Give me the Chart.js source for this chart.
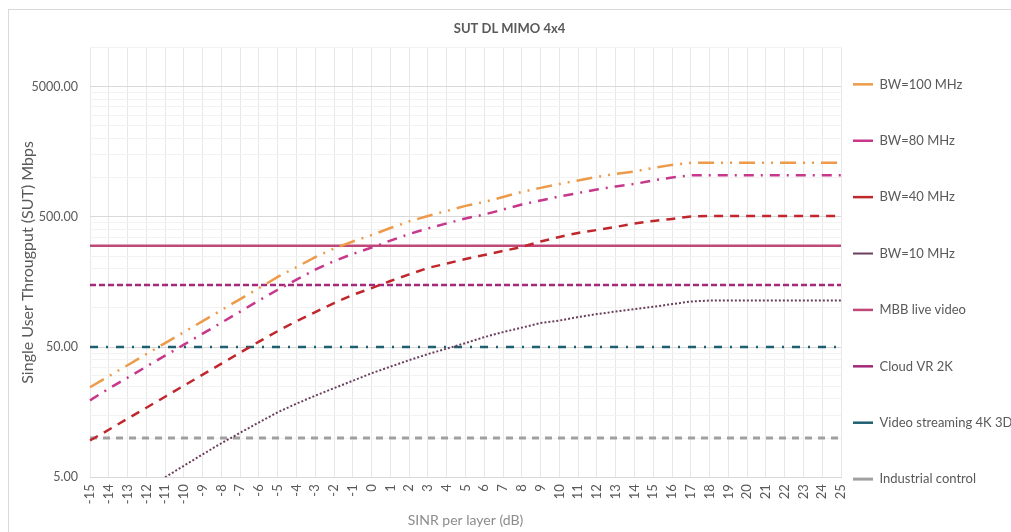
<!DOCTYPE html>
<html>
<head>
<meta charset="utf-8">
<script src="https://cdn.jsdelivr.net/npm/chart.js@4.4.1/dist/chart.umd.min.js"></script>
<style>
  html, body { margin: 0; padding: 0; background: #fff; }
  #wrap { width: 1011px; height: 532px; position: relative; }
</style>
</head>
<body>
<div id="wrap"><canvas id="sut-graph"></canvas></div>
<script>
// SINR per layer (dB), x categories
var sinr = [-15, -14, -13, -12, -11, -10, -9, -8, -7, -6, -5, -4, -3, -2, -1, 0, 1, 2, 3, 4,
            5, 6, 7, 8, 9, 10, 11, 12, 13, 14, 15, 16, 17, 18, 19, 20, 21, 22, 23, 24, 25];

// single user throughput, Mbps
var bw100 = [24.6, 29.9, 36.3, 44.2, 53.7, 65.2, 79.2, 96.3, 117, 142, 173, 206, 246, 286, 324, 363,
             411, 462, 509, 556, 608, 652, 712, 779, 836, 897, 954, 1015, 1071, 1119, 1191, 1256,
             1301, 1305, 1305, 1305, 1305, 1305, 1305, 1305, 1305];
var bw80 = [19.5, 24.0, 29.1, 35.4, 43.0, 52.2, 63.4, 77.1, 93.7, 114, 138, 165, 197, 229, 260, 291,
            329, 370, 408, 446, 487, 522, 570, 624, 670, 718, 764, 813, 858, 896, 954, 1005,
            1045, 1045, 1045, 1045, 1045, 1045, 1045, 1045, 1045];
var bw40 = [9.58, 11.6, 14.1, 17.1, 20.8, 25.3, 30.7, 37.3, 45.4, 55.1, 66.4, 79.2, 93, 109, 126, 142,
            161, 181, 203, 219, 238, 255, 274, 294, 324, 351, 377, 397, 419, 446, 466, 483,
            504, 509, 509, 509, 509, 509, 509, 509, 509];
var bw10 = [null, null, null, null, 5.0, 6.13, 7.51, 9.13, 11.0, 13.2, 15.8, 18.4, 21.2, 24.2, 27.6, 31.5,
            35.4, 39.7, 44.2, 48.7, 53.7, 59.7, 65.2, 70.6, 76.5, 80, 85.1, 89.7, 93.8, 98, 102, 107,
            112, 114, 114, 114, 114, 114, 114, 114, 114];

// service requirements (flat lines), Mbps
var serviceNames = ['MBB live video', 'Cloud VR 2K', 'Video streaming 4K 3D', 'Industrial control'];
var serviceRates = [300, 150, 50, 10];

// y axis labels
var yLabels = [5, 50, 500, 5000];
var yMax = 10000;

var gridValues = [];
yLabels.forEach(function(b) {
    for (var k = 1; k <= 9; k++) {
        if (b * k <= yMax) gridValues.push(b * k);
    }
});
if (gridValues.indexOf(yMax) < 0) gridValues.push(yMax);

Chart.defaults.font.family = 'Lato, "Open Sans", sans-serif';
Chart.defaults.color = '#595959';

var frame = {
    id: 'frame',
    beforeDraw: function(chart) {
        var c = chart.ctx;
        c.save();
        c.strokeStyle = '#d9d9d9';
        c.lineWidth = 1;
        c.strokeRect(8.5, 9.5, chart.width, chart.height);
        c.restore();
    }
};

function flat(rate) {
    return sinr.map(function() { return rate; });
}

var data = {
    labels: sinr,
    datasets: [
        { label: 'BW=100 MHz', data: bw100, borderColor: '#ED9A4A', borderWidth: 2.5, borderDash: [16, 7, 2, 7, 2, 7] },
        { label: 'BW=80 MHz', data: bw80, borderColor: '#C7378B', borderWidth: 2.5, borderDash: [10, 7, 2, 7] },
        { label: 'BW=40 MHz', data: bw40, borderColor: '#C0272D', borderWidth: 2.5, borderDash: [9, 7] },
        { label: 'BW=10 MHz', data: bw10, borderColor: '#6A3F5E', borderWidth: 2, borderDash: [2, 2] },
        { label: serviceNames[0], data: flat(serviceRates[0]), borderColor: '#C04878', borderWidth: 2.5 },
        { label: serviceNames[1], data: flat(serviceRates[1]), borderColor: '#A3297A', borderWidth: 2.5, borderDash: [6, 3] },
        { label: serviceNames[2], data: flat(serviceRates[2]), borderColor: '#1E6070', borderWidth: 2.5, borderDash: [8, 8, 2, 8] },
        { label: serviceNames[3], data: flat(serviceRates[3]), borderColor: '#A0A0A0', borderWidth: 3, borderDash: [7, 6] }
    ]
};

var ctx = document.getElementById('sut-graph');
var sutGraph = new Chart(ctx, {
    type: 'line',
    data: data,
    plugins: [frame],
    options: {
        responsive: true,
        maintainAspectRatio: false,
        animation: false,
        elements: { point: { radius: 0 }, line: { tension: 0, fill: false } },
        layout: { padding: { left: 8, bottom: 3 } },
        plugins: {
            tooltip: { enabled: false },
            title: {
                display: true,
                text: 'SUT DL MIMO 4x4',
                color: '#595959',
                font: { size: 13, weight: 'bold' },
                padding: { top: 21, bottom: 11 }
            },
            legend: {
                position: 'right',
                align: 'end',
                maxWidth: 170,
                labels: {
                    usePointStyle: true,
                    pointStyle: 'line',
                    pointStyleWidth: 20,
                    color: '#595959',
                    font: { size: 13, lineHeight: 3.415 },
                    padding: 12,
                    generateLabels: function(chart) {
                        var items = Chart.defaults.plugins.legend.labels.generateLabels(chart);
                        items.forEach(function(it) { it.text = [it.text]; });
                        return items;
                    }
                }
            }
        },
        scales: {
            x: {
                grid: { color: '#e8e8e8', drawTicks: false },
                border: { color: '#d9d9d9' },
                ticks: { minRotation: 90, maxRotation: 90, autoSkip: false, padding: 7, color: '#595959', font: { size: 13 } },
                title: { display: true, text: 'SINR per layer (dB)', color: '#8c8c8c', font: { size: 14 }, padding: { top: 1, bottom: 0 } }
            },
            y: {
                type: 'logarithmic',
                min: 5,
                max: yMax,
                afterBuildTicks: function(scale) {
                    scale.ticks = gridValues.map(function(v) { return { value: v }; });
                },
                afterFit: function(scale) { scale.width = 82; },
                grid: {
                    drawTicks: false,
                    color: function(c) {
                        return yLabels.indexOf(c.tick.value) >= 0 ? '#d9d9d9' : '#f2f2f2';
                    }
                },
                border: { display: false },
                ticks: {
                    autoSkip: false,
                    padding: 12,
                    color: '#595959',
                    font: { size: 12.5 },
                    callback: function(v) { return yLabels.indexOf(v) >= 0 ? v.toFixed(2) : ''; }
                },
                title: { display: true, text: 'Single User Througput (SUT) Mbps', color: '#595959', font: { size: 16 }, padding: { top: 10, bottom: 0 } }
            }
        }
    }
});
</script>
</body>
</html>
